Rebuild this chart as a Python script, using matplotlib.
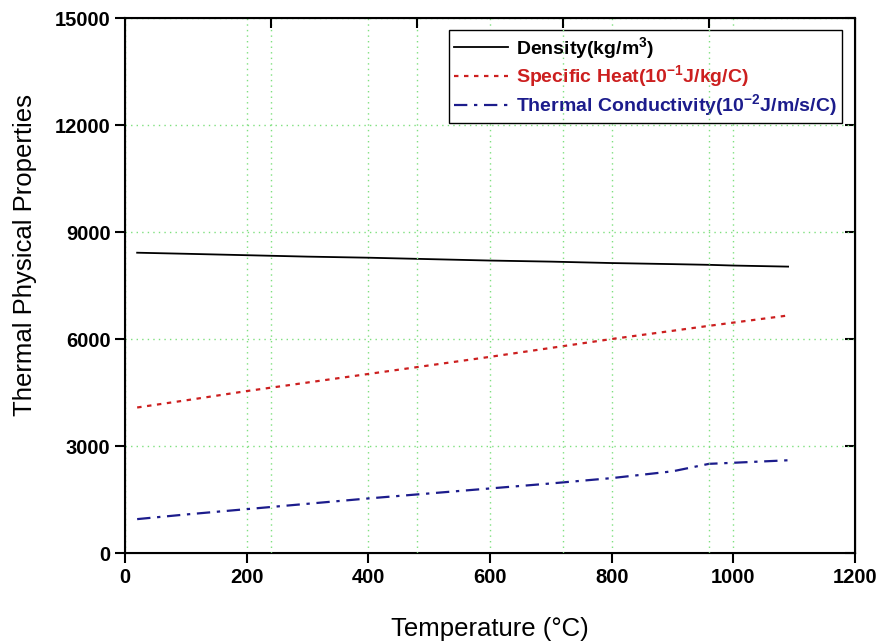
import matplotlib
matplotlib.use("Agg")
import matplotlib.pyplot as plt

plt.rcParams['font.family'] = ['Liberation Sans', 'DejaVu Sans']
plt.rcParams['mathtext.default'] = 'regular'

# temperature in C
temp = [20, 100, 200, 300, 400, 500, 600, 700, 800, 900, 960, 1000, 1090]
density = [8420, 8390, 8350, 8310, 8280, 8240, 8200, 8170, 8130, 8100, 8080, 8060, 8030]
spec_heat = [4080, 4280, 4540, 4780, 5020, 5260, 5500, 5750, 6000, 6230, 6370, 6460, 6660]
conductivity = [950, 1080, 1230, 1380, 1530, 1670, 1810, 1950, 2100, 2290, 2500, 2530, 2600]

fig = plt.figure(figsize=(8.82, 6.44), dpi=100)
ax = fig.add_axes([0.1417, 0.1413, 0.8277, 0.8307])

grid_kw = dict(color='#7ee07e', linestyle=(0, (1, 3)), linewidth=1.0)

ax.plot(temp, density, color='black', lw=1.3, label=r'Density(kg/m$^{3}$)')
ax.plot(temp, spec_heat, color='#cc1f1f', lw=1.6, linestyle=(0, (2, 2.5)),
        label=r'Specific Heat(10$^{-1}$J/kg/C)')
ax.plot(temp, conductivity, color='#1c1c8c', lw=1.6, linestyle=(0, (6, 3, 1.5, 3)),
        label=r'Thermal Conductivity(10$^{-2}$J/m/s/C)')

ax.set_xlim(0, 1200)
ax.set_ylim(0, 15000)
ax.set_xticks(range(0, 1201, 200))
ax.set_yticks(range(0, 15001, 3000))
ax.grid(True, **grid_kw)
ax.tick_params(direction='out', length=7, width=1.5, labelsize=14.5)
for lab in ax.get_xticklabels() + ax.get_yticklabels():
    lab.set_fontweight('bold')
for sp in ax.spines.values():
    sp.set_linewidth(1.5)

# second x scale on top, ticks every 240
top = ax.twiny()
top.set_xlim(0, 1200)
top.set_xticks([240, 480, 720, 960])
top.tick_params(direction='in', length=7, width=1.5, labeltop=False)
top.grid(True, axis='x', **grid_kw)

right = ax.secondary_yaxis('right')
right.set_yticks(range(0, 15001, 3000))
right.tick_params(direction='in', length=7, width=1.5, labelright=False)

ax.set_xlabel('Temperature (°C)', fontsize=18.5, labelpad=22)
ax.set_ylabel('Thermal Physical Properties', fontsize=18.5)
ax.yaxis.set_label_coords(-0.12, 0.557)

leg = ax.legend(loc='upper right', bbox_to_anchor=(0.995, 0.996), fancybox=False,
                edgecolor='black', framealpha=1, prop={'weight': 'bold', 'size': 14},
                handlelength=2.8, handletextpad=0.4, labelspacing=0.15,
                borderpad=0.25)
leg.get_frame().set_linewidth(1.0)
for txt, line in zip(leg.get_texts(), leg.get_lines()):
    txt.set_color(line.get_color())

fig.savefig('out.png', dpi=100)
